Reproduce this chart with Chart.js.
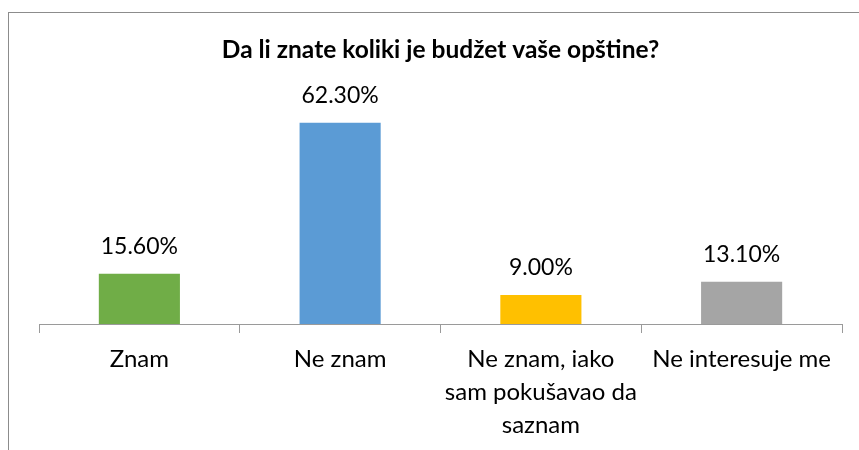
<!DOCTYPE html>
<html>
<head>
<meta charset="utf-8">
<script src="https://cdn.jsdelivr.net/npm/chart.js@4"></script>
<style>
  html, body { margin: 0; padding: 0; background: #fff; }
  #wrap { width: 859px; height: 450px; }
</style>
</head>
<body>
<div id="wrap"><canvas id="myChart" width="859" height="450"></canvas></div>
<script>
const categories = ['Znam', 'Ne znam', ['Ne znam, iako', 'sam pokušavao da', 'saznam'], 'Ne interesuje me']
const values = [15.6, 62.3, 9.0, 13.1]
const barColors = ['#70AD47', '#5B9BD5', '#FFC000', '#A5A5A5']
const title = 'Da li znate koliki je budžet vaše opštine?'

const fontName = 'Lato, "Open Sans", sans-serif'

// frame around the chart, cut off on the right and bottom like the screenshot
const framePlugin = {
    id: 'frame',
    beforeDraw(chart) {
        const ctx = chart.ctx
        ctx.save()
        ctx.fillStyle = '#fff'
        ctx.fillRect(0, 0, chart.width, chart.height)
        ctx.strokeStyle = '#8c8c8c'
        ctx.lineWidth = 1
        ctx.strokeRect(8.5, 12.5, 900, 500)
        ctx.restore()
    }
}

const valueLabels = {
    id: 'valueLabels',
    afterDatasetsDraw(chart) {
        const ctx = chart.ctx
        const meta = chart.getDatasetMeta(0)
        ctx.save()
        ctx.font = '23px ' + fontName
        ctx.fillStyle = '#000'
        ctx.textAlign = 'center'
        ctx.textBaseline = 'middle'
        meta.data.forEach(function (bar, i) {
            ctx.fillText(values[i].toFixed(2) + '%', bar.x, bar.y - 27)
        })
        ctx.restore()
    }
}

const data = {
    labels: categories,
    datasets: [{
        data: values,
        backgroundColor: barColors,
        borderWidth: 0,
        categoryPercentage: 1,
        barPercentage: 0.404
    }]
}

const config = {
    type: 'bar',
    data: data,
    plugins: [framePlugin, valueLabels],
    options: {
        responsive: false,
        animation: false,
        layout: {
            padding: { left: 39, right: 17, top: 0, bottom: 0 }
        },
        plugins: {
            legend: { display: false },
            tooltip: { enabled: false },
            title: {
                display: true,
                text: title,
                color: '#000',
                font: { family: fontName, size: 24.5, weight: 'bold', lineHeight: 1.2 },
                padding: { top: 35.3, bottom: 33.3 }
            }
        },
        scales: {
            x: {
                offset: true,
                afterFit(scale) { scale.height = 126 },
                border: { display: true, color: '#9a9a9a', width: 1 },
                grid: {
                    offset: true,
                    drawOnChartArea: false,
                    drawTicks: true,
                    tickLength: 9,
                    color: '#9a9a9a'
                },
                ticks: {
                    autoSkip: false,
                    maxRotation: 0,
                    padding: 10,
                    color: '#000',
                    font: { family: fontName, size: 24, lineHeight: 1.375 }
                }
            },
            y: {
                display: false,
                min: 0,
                max: 70
            }
        }
    }
}

const myChart = new Chart(document.getElementById('myChart'), config)
</script>
</body>
</html>
